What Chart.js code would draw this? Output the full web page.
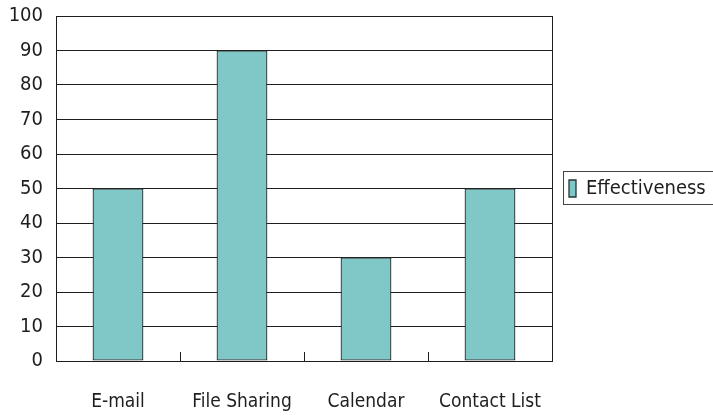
<!DOCTYPE html>
<html>
<head>
<meta charset="utf-8">
<script src="https://cdn.jsdelivr.net/npm/chart.js@4"></script>
<style>
  html, body { margin: 0; padding: 0; background: #fff; }
</style>
</head>
<body>
<canvas id="myChart" width="713" height="417"></canvas>
<script>
var categories = ["E-mail", "File Sharing", "Calendar", "Contact List"];
var effectiveness = [50, 90, 30, 50];
var seriesName = "Effectiveness";

var fontFamily = "'DejaVu Sans Condensed', 'Liberation Sans Narrow', sans-serif";
var ink = "#1e1e1e";

// frame around plot, inner tick marks between categories, border round the legend
var extras = {
  id: "extras",
  afterDatasetsDraw: function(chart) {
    var ctx = chart.ctx;
    var a = chart.chartArea;
    var x = chart.scales.x;
    ctx.save();
    ctx.strokeStyle = ink;
    ctx.lineWidth = 1;
    ctx.beginPath();
    ctx.moveTo(a.right + 0.5, a.top);
    ctx.lineTo(a.right + 0.5, a.bottom);
    for (var i = 1; i < categories.length; i++) {
      var px = Math.round((x.getPixelForTick(i - 1) + x.getPixelForTick(i)) / 2) + 0.5;
      ctx.moveTo(px, a.bottom);
      ctx.lineTo(px, a.bottom - 9);
    }
    ctx.stroke();
    ctx.restore();
  },
  afterDraw: function(chart) {
    var hit = chart.legend.legendHitBoxes[0];
    if (!hit) return;
    var ctx = chart.ctx;
    ctx.save();
    ctx.strokeStyle = "#444";
    ctx.lineWidth = 1;
    ctx.strokeRect(Math.round(chart.legend.left) + 11.5, Math.round(hit.top + hit.height / 2) - 17.5, 200, 33);
    ctx.restore();
  }
};

new Chart("myChart", {
  type: "bar",
  data: {
    labels: categories,
    datasets: [{
      label: seriesName,
      data: effectiveness,
      backgroundColor: "#80c8c8",
      borderColor: "#263333",
      borderWidth: 1.3,
      borderSkipped: false,
      categoryPercentage: 1,
      barPercentage: 0.41
    }]
  },
  options: {
    responsive: false,
    animation: false,
    layout: { padding: { top: 16, bottom: 0, left: 9, right: 0 } },
    plugins: {
      tooltip: { enabled: false },
      legend: {
        position: "right",
        fullSize: false,
        maxWidth: 161,
        labels: {
          boxWidth: 7,
          boxHeight: 17,
          padding: 17,
          color: ink,
          font: { family: fontFamily, size: 20 }
        }
      }
    },
    scales: {
      x: {
        grid: { display: false },
        border: { color: ink, width: 1 },
        afterFit: function(scale) { scale.height = 56; },
        ticks: {
          color: ink,
          padding: 22,
          maxRotation: 0,
          font: { family: fontFamily, size: 19 }
        }
      },
      y: {
        min: 0,
        max: 100,
        afterFit: function(scale) { scale.width = 47; },
        ticks: {
          stepSize: 10,
          color: ink,
          padding: 13,
          font: { family: fontFamily, size: 20, lineHeight: 0.1 }
        },
        grid: { color: ink, lineWidth: 1, drawTicks: false },
        border: { color: ink, width: 1 }
      }
    }
  },
  plugins: [extras]
});
</script>
</body>
</html>
